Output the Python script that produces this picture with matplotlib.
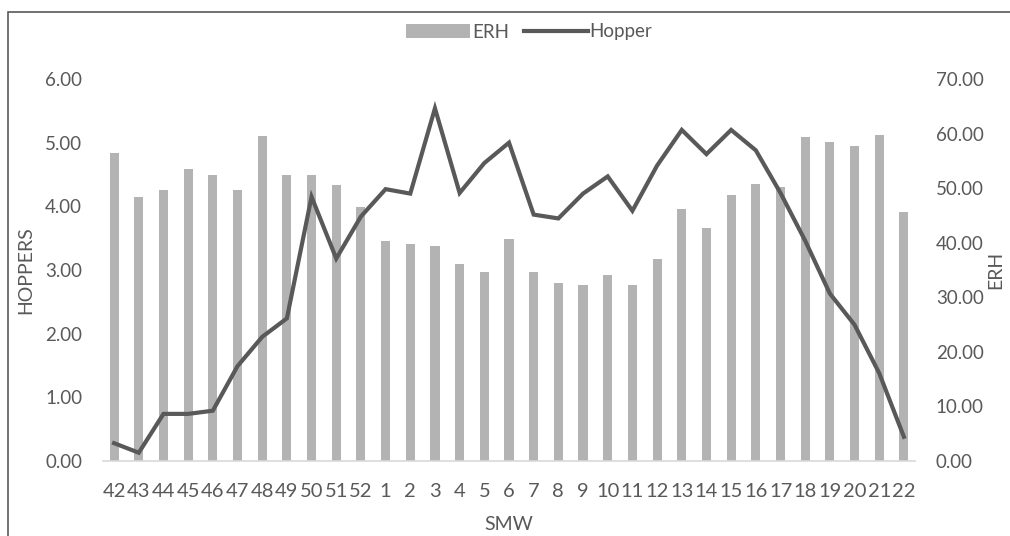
import matplotlib.pyplot as plt
from matplotlib.patches import Rectangle
import numpy as np

# SMW weeks and values
weeks = ["42", "43", "44", "45", "46", "47", "48", "49", "50", "51", "52",
         "1", "2", "3", "4", "5", "6", "7", "8", "9", "10", "11", "12",
         "13", "14", "15", "16", "17", "18", "19", "20", "21", "22"]

erh = [56.4, 48.3, 49.6, 53.5, 52.5, 49.6, 59.5, 52.4, 52.4, 50.5, 46.5,
       40.3, 39.7, 39.4, 36.1, 34.6, 40.7, 34.7, 32.7, 32.2, 34.1, 32.2, 37.0,
       46.2, 42.7, 48.7, 50.7, 50.3, 59.4, 58.4, 57.8, 59.8, 45.6]

hopper = [0.28, 0.13, 0.74, 0.74, 0.79, 1.49, 1.95, 2.24, 4.15, 3.18, 3.84,
          4.27, 4.20, 5.54, 4.21, 4.68, 5.00, 3.87, 3.81, 4.20, 4.47, 3.93, 4.64,
          5.20, 4.82, 5.20, 4.88, 4.21, 3.46, 2.63, 2.14, 1.38, 0.38]

text_col = "#595959"
plt.rcParams["font.family"] = ["Lato", "DejaVu Sans"]

fig = plt.figure(figsize=(10.10, 5.36), dpi=100)
ax = fig.add_axes([103 / 1010, 1 - 461 / 536, 812 / 1010, 382 / 536])
ax2 = ax.twinx()

x = np.arange(len(weeks))

# bars go on the right axis, line on the left (drawn on top)
ax2.bar(x, erh, width=0.37, color="#b3b3b3", label="ERH", zorder=1)
ax.set_zorder(ax2.get_zorder() + 1)
ax.patch.set_visible(False)
ax.plot(x, hopper, color="#595959", lw=3.0, label="Hopper",
        solid_joinstyle="miter", zorder=3)

ax.set_xlim(-0.45, 32.45)
ax.set_ylim(0, 6)
ax2.set_ylim(0, 70)
ax.set_yticks(np.arange(0, 7, 1))
ax.set_yticklabels([f"{v:.2f}" for v in np.arange(0, 7, 1)])
ax2.set_yticks(np.arange(0, 80, 10))
ax2.set_yticklabels([f"{v:.2f}" for v in np.arange(0, 80, 10)])
ax.set_xticks(x)
ax.set_xticklabels(weeks)

for a in (ax, ax2):
    for s in a.spines.values():
        s.set_visible(False)
    a.tick_params(length=0, colors=text_col, labelsize=13.5)
ax.tick_params(axis="x", labelsize=14.5, pad=16)
ax.spines["bottom"].set_visible(True)
ax.spines["bottom"].set_color("#d9d9d9")
ax.spines["bottom"].set_linewidth(1.2)
ax.tick_params(axis="y", pad=15)
ax2.tick_params(axis="y", pad=15)

ax.set_xlabel("SMW", color=text_col, fontsize=14, labelpad=11)
ax.set_ylabel("HOPPERS", color=text_col, fontsize=14, labelpad=8)
# right label sits at the very edge in the original
fig.text(996 / 1010, 1 - 270 / 536, "ERH", rotation=90, color=text_col,
         fontsize=14, ha="center", va="center")

h1, l1 = ax2.get_legend_handles_labels()
h2, l2 = ax.get_legend_handles_labels()
fig.legend(h1 + h2, l1 + l2, loc="center", bbox_to_anchor=(0.524, 1 - 32 / 536),
           ncol=2, frameon=False, fontsize=13.5, labelcolor=text_col,
           handlelength=3.4, handletextpad=0.1, columnspacing=0.8)

# outer frame, cut off at right and bottom like the reference
fig.patches.append(Rectangle((8 / 1010, -0.1), 1.2, 1 - 12 / 536 + 0.1,
                             transform=fig.transFigure, fill=False,
                             edgecolor="#595959", lw=1.2))

plt.savefig("out.png", dpi=100)
